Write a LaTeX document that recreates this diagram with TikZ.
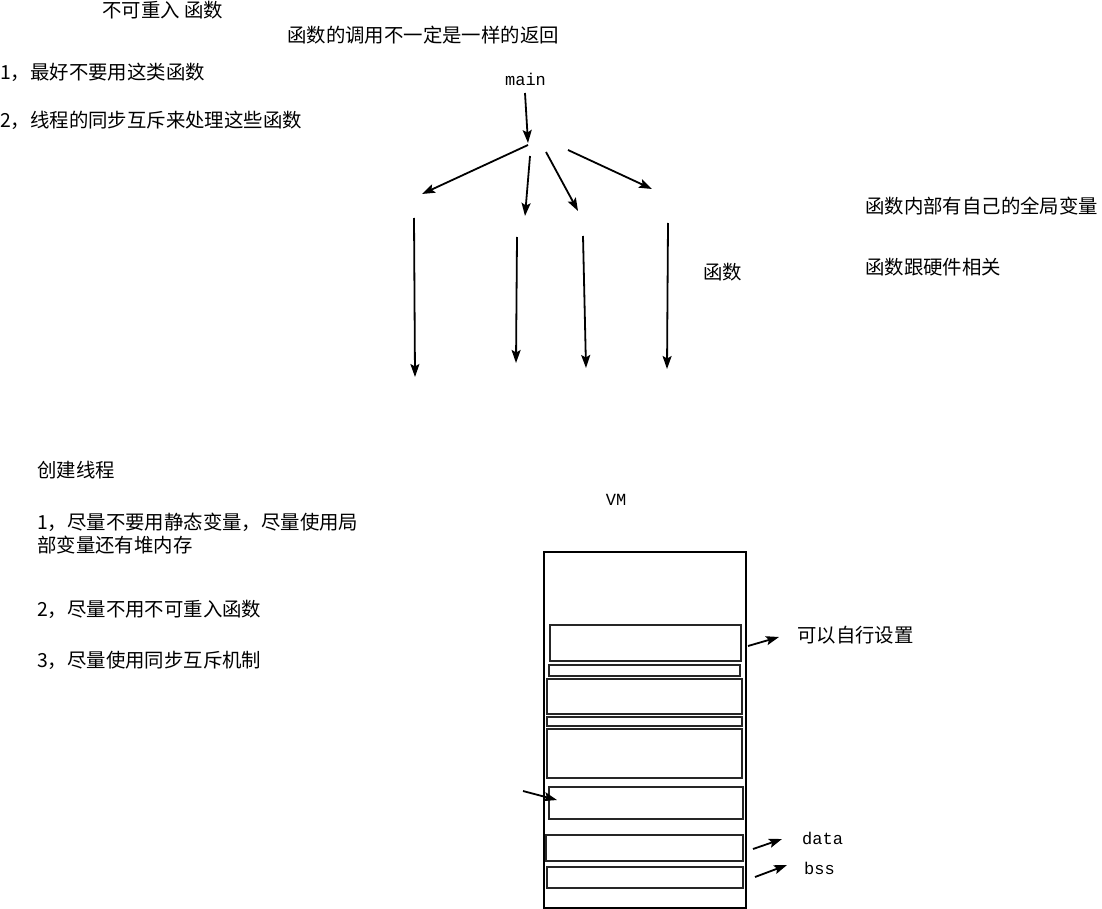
\documentclass[tikz,border=0pt]{standalone}
\usepackage{fontspec}
\setmainfont{Noto Sans CJK SC}
\newfontfamily\monofnt{Liberation Mono}
\usetikzlibrary{arrows.meta}

\begin{document}
\begin{tikzpicture}[x=1pt, y=-1pt]
\tikzset{
   >={Stealth[length=13pt, width=9pt, inset=2.5pt]},
   note/.style = {anchor = west, inner sep = 0pt, font = \fontsize{19.4}{23}\selectfont, align = left},
   code/.style = {inner sep = 0pt, font = \monofnt\fontsize{17}{20}\selectfont},
   arr/.style = {->, line width = 1.8pt},
   vm_box/.style = {rectangle, draw, line width = 1.6pt, inner sep = 0pt},
   seg/.style = {vm_box, line width = 2pt, draw = black!85}
}
\useasboundingbox (0,0) rectangle (1102,909);

  % notes, left column
  \node[note] (title) at (102,10) {不可重入 函数};
  \node[note] (return) at (287,35) {函数的调用不一定是一样的返回};
  \node[note] (tip_one) at (0,72) {1，最好不要用这类函数};
  \node[note] (tip_two) at (0,120) {2，线程的同步互斥来处理这些函数};

  % notes, right column
  \node[note] (global) at (865,206) {函数内部有自己的全局变量};
  \node[note] (hardware) at (865,267) {函数跟硬件相关};
  \node[note] (func) at (703,272) {函数};

  % thread notes
  \node[note] (thread) at (37,470) {创建线程};
  \node[note] (rule_one) at (37,534) {1，尽量不要用静态变量，尽量使用局\\部变量还有堆内存};
  \node[note] (rule_two) at (37,609) {2，尽量不用不可重入函数};
  \node[note] (rule_three) at (37,660) {3，尽量使用同步互斥机制};

  % call tree
  \node[code] (main) at (525.5,79) {main};
  \coordinate (fork) at (528,143);
  \coordinate (main_out) at (525,93);
  \draw[arr] (main_out) -- (fork);

  \coordinate (b1_s) at (528,145);  \coordinate (b1_e) at (422,194);
  \coordinate (b2_s) at (530,156);  \coordinate (b2_e) at (525,216);
  \coordinate (b3_s) at (546,152);  \coordinate (b3_e) at (578,211);
  \coordinate (b4_s) at (568,150);  \coordinate (b4_e) at (652,189);
  \draw[arr] (b1_s) -- (b1_e);
  \draw[arr] (b2_s) -- (b2_e);
  \draw[arr] (b3_s) -- (b3_e);
  \draw[arr] (b4_s) -- (b4_e);

  \coordinate (v1_s) at (414,218);  \coordinate (v1_e) at (415,377);
  \coordinate (v2_s) at (517,237);  \coordinate (v2_e) at (516,363);
  \coordinate (v3_s) at (583,236);  \coordinate (v3_e) at (586,368);
  \coordinate (v4_s) at (668,223);  \coordinate (v4_e) at (667,369);
  \draw[arr] (v1_s) -- (v1_e);
  \draw[arr] (v2_s) -- (v2_e);
  \draw[arr] (v3_s) -- (v3_e);
  \draw[arr] (v4_s) -- (v4_e);

  % memory layout
  \node[code] (vm_label) at (616,500) {VM};
  \node[vm_box, minimum width = 202pt, minimum height = 356pt] (vm) at (645,730) {};
  \node[seg, minimum width = 191pt, minimum height = 36pt] (seg_one) at (645.5,643) {};
  \node[seg, minimum width = 191pt, minimum height = 11pt] (seg_two) at (644.5,670.5) {};
  \node[seg, minimum width = 195pt, minimum height = 35pt] (seg_three) at (644.5,696.5) {};
  \node[seg, minimum width = 195pt, minimum height = 9pt] (seg_four) at (644.5,721.5) {};
  \node[seg, minimum width = 195pt, minimum height = 49pt] (seg_five) at (644.5,753.5) {};
  \node[seg, minimum width = 194pt, minimum height = 32pt] (seg_six) at (646,803) {};
  \node[seg, minimum width = 197pt, minimum height = 26pt] (seg_data) at (644.5,848) {};
  \node[seg, minimum width = 196pt, minimum height = 21pt] (seg_bss) at (645,877.5) {};

  \node[note] (settable) at (797,635) {可以自行设置};
  \node[code, anchor = west] (data) at (802,838) {data};
  \node[code, anchor = west] (bss) at (804,868) {bss};

  \coordinate (set_s) at (748,646);   \coordinate (set_e) at (779,637);
  \coordinate (in_s) at (523,791);    \coordinate (in_e) at (557,800);
  \coordinate (data_s) at (753,849);  \coordinate (data_e) at (782,839);
  \coordinate (bss_s) at (755,877);   \coordinate (bss_e) at (787,865);
  \draw[arr] (set_s) -- (set_e);
  \draw[arr] (in_s) -- (in_e);
  \draw[arr] (data_s) -- (data_e);
  \draw[arr] (bss_s) -- (bss_e);

\end{tikzpicture}
\end{document}
